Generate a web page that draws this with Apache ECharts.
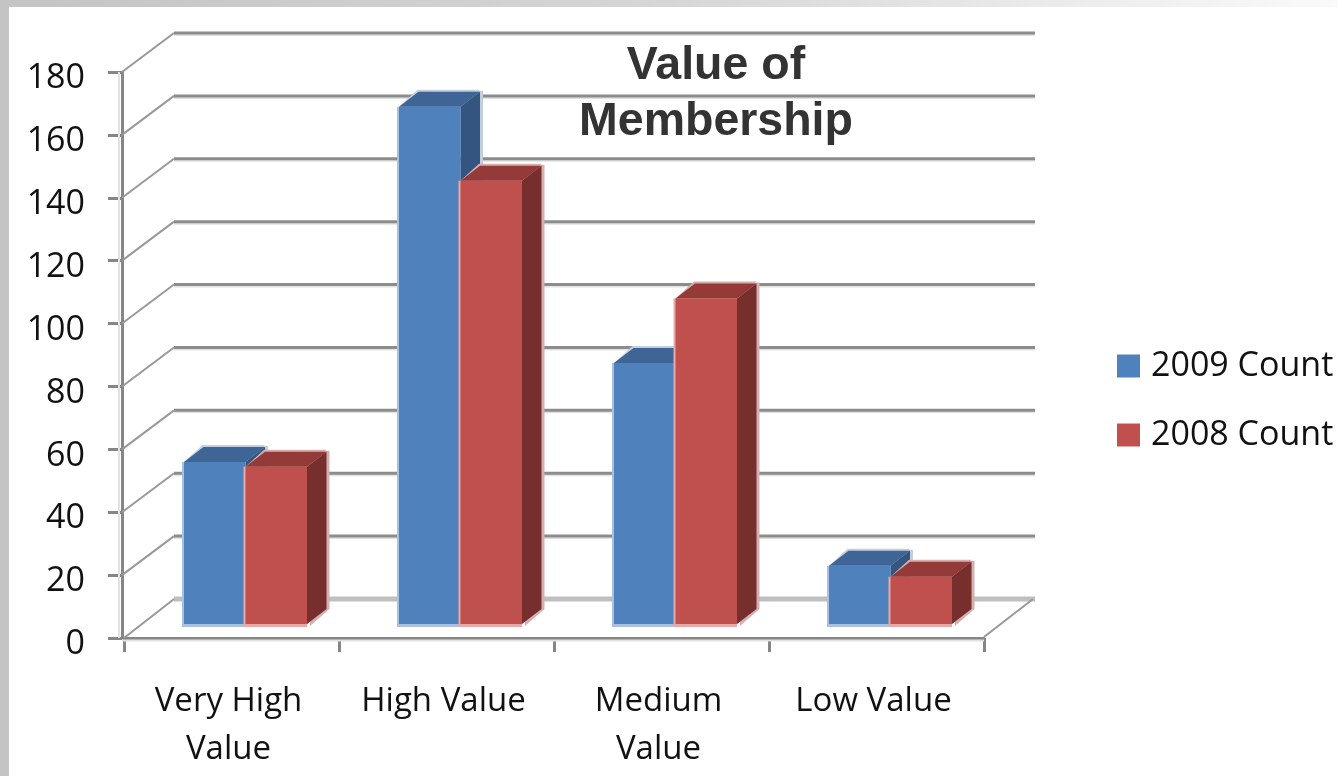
<!DOCTYPE html>
<html><head><meta charset="utf-8">
<style>html,body{margin:0;padding:0;background:#fff}#c{width:1338px;height:776px}</style>
<script src="https://cdn.jsdelivr.net/npm/echarts@6/dist/echarts.min.js"></script>
</head><body><div id="c"></div>
<script>
const categories = ['Very High\nValue', 'High Value', 'Medium\nValue', 'Low Value'];
const count2009 = [51.5, 164.5, 83, 18.5];
const count2008 = [50, 141, 103.5, 15];
const yTicks = [0, 20, 40, 60, 80, 100, 120, 140, 160, 180];

const FONT = '"Open Sans", sans-serif';
const WALL_DX = 50, WALL_DY = -39;   // depth of the chart box
const BAR_DX = 14, BAR_DY = -14;     // bars stand inside the box
const BAR_W = 61.5, SIDE_DX = 19.5, SIDE_DY = -15;

function poly(points, fill, z2) {
  return { type: 'polygon', z2: z2 || 0, shape: { points }, style: { fill } };
}
function line(points, stroke, width) {
  return { type: 'polyline', shape: { points }, style: { stroke, lineWidth: width, fill: null } };
}
function wallRender(params, api) {
  const v = api.value(0);
  const cs = params.coordSys;
  const y = api.coord([0, v])[1];
  const xl = cs.x - 2, xr = cs.x + cs.width;
  const children = [];
  const by = y + WALL_DY, bl = xl + WALL_DX + 2, br = xr + WALL_DX + 1;
  if (v === 0) {
    children.push(line([[bl, by], [br, by]], '#bfbfbf', 5));
    children.push(line([[xl + 2, y], [bl, by]], '#999999', 2));
    children.push(line([[xr, y - 1], [br - 2, by]], '#999999', 2));
    children.push(line([[xl, y + 2.5], [xr, y + 2.5]], '#e2e2e2', 2));
    children.push(line([[xl - 3, api.coord([0, 180])[1]], [xl - 3, y]], '#e2e2e2', 2));
  } else {
    children.push(line([[bl, by + 1.5], [br, by + 1.5]], '#e2e2e2', 3));
    children.push(line([[bl, by], [br, by]], '#8c8c8c', 3));
    children.push(line([[xl, y], [bl, by]], '#999999', 2));
  }
  return { type: 'group', children };
}
function barRender(slot, col) {
  return function (params, api) {
    const cat = api.value(0), v = api.value(1);
    const top = api.coord([cat, v]), base = api.coord([cat, 0]);
    const x0 = top[0] + BAR_DX + (slot - 1) * BAR_W, x1 = x0 + BAR_W;
    const yt = top[1] + BAR_DY, yb = base[1] + BAR_DY;
    const sx = SIDE_DX, sy = SIDE_DY;
    return { type: 'group', children: [
      poly([[x1 + 3, yt + sy - 1], [x1 + sx + 3, yt + sy - 1], [x1 + sx + 3, yb + sy], [x1 + 3, yb + 2]], col.haloSide),
      poly([[x0 + sx - 1, yt + sy - 2], [x1 + sx, yt + sy - 2], [x1, yt], [x0, yt]], col.haloSide),
      poly([[x0 - 2, yt], [x1, yt], [x1, yb + 3], [x0 - 2, yb + 3]], col.halo),
      poly([[x0, yt], [x0 + sx, yt + sy], [x1 + sx, yt + sy], [x1, yt]], col.top),
      poly([[x1, yt], [x1 + sx, yt + sy], [x1 + sx, yb + sy], [x1, yb]], col.side),
      poly([[x0, yt], [x1, yt], [x1, yb], [x0, yb]], col.front)
    ]};
  };
}
const blue = { front: '#4f81bd', top: '#3e6595', side: '#335580', halo: '#a9c1e0', haloSide: '#c4cfdc' };
const red = { front: '#c0504d', top: '#943b39', side: '#772f2e', halo: '#e8aaa8', haloSide: '#d4b0b0' };

const chart = echarts.init(document.getElementById('c'), null, { renderer: 'canvas' });
chart.setOption({
  animation: false,
  backgroundColor: '#ffffff',
  title: {
    text: 'Value of\nMembership', left: 711, top: 33, textAlign: 'center',
    textStyle: { fontFamily: '"Liberation Sans", Arial, sans-serif', fontWeight: 'bold', fontSize: 46.5, lineHeight: 56, color: '#333333' }
  },
  legend: {
    orient: 'vertical', left: 1112, top: 344, itemWidth: 23, itemHeight: 23, itemGap: 35,
    icon: 'rect', textStyle: { fontFamily: FONT, fontSize: 34, color: '#111111', padding: [0, 0, 0, 6] },
    data: ['2009 Count', '2008 Count']
  },
  grid: { left: 124, width: 860, top: 72, height: 566 },
  xAxis: {
    type: 'category', data: categories,
    axisLine: { lineStyle: { color: '#868686', width: 3 } },
    axisTick: { show: true, length: 14, lineStyle: { color: '#868686', width: 3 } },
    axisLabel: { fontFamily: FONT, fontSize: 33, lineHeight: 48, color: '#111111', margin: 40, padding: [0, 6, 0, 0] },
    splitLine: { show: false }
  },
  yAxis: {
    type: 'value', min: 0, max: 180, interval: 20, offset: 2,
    axisLine: { show: true, lineStyle: { color: '#868686', width: 3 } },
    axisTick: { show: true, length: 14, lineStyle: { color: '#868686', width: 3 } },
    axisLabel: { fontFamily: FONT, fontSize: 34, color: '#111111', margin: 37, verticalAlign: 'top', lineHeight: 13 },
    splitLine: { show: false }
  },
  graphic: [
    { type: 'rect', silent: true, z: -1, shape: { x: 0, y: 0, width: 1338, height: 7 },
      style: { fill: new echarts.graphic.LinearGradient(0, 0, 1, 0, [{ offset: 0, color: '#c4c4c4' }, { offset: 0.5, color: '#d6d6d6' }, { offset: 1, color: '#fafafa' }]) } },
    { type: 'rect', silent: true, z: -1, shape: { x: 0, y: 0, width: 9, height: 776 }, style: { fill: '#c4c4c4' } }
  ],
  series: [
    { type: 'custom', name: 'walls', silent: true, clip: false, z: 1, renderItem: wallRender,
      data: yTicks.map(v => [v]), encode: { y: 0 } },
    { type: 'custom', name: '2009 Count', clip: false, z: 2, itemStyle: { color: blue.front },
      renderItem: barRender(0, blue), data: count2009.map((v, i) => [i, v]), encode: { x: 0, y: 1 } },
    { type: 'custom', name: '2008 Count', clip: false, z: 3, itemStyle: { color: red.front },
      renderItem: barRender(1, red), data: count2008.map((v, i) => [i, v]), encode: { x: 0, y: 1 } }
  ]
});
</script></body></html>
